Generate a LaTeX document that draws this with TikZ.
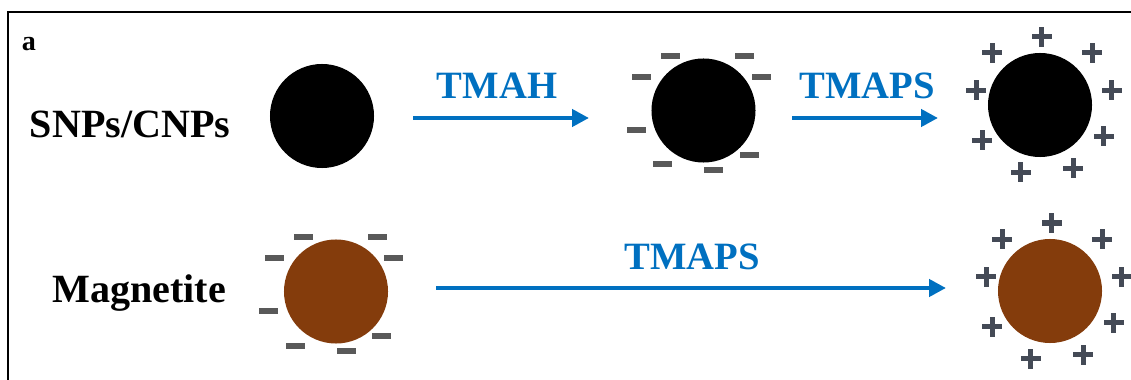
\documentclass[tikz,border=0pt]{standalone}
\usepackage{fontspec}
\setmainfont{Liberation Serif}
\usetikzlibrary{arrows.meta}
\definecolor{tmblue}{RGB}{0,112,192}
\definecolor{rust}{RGB}{132,60,12}
\definecolor{chgray}{RGB}{89,89,89}
\definecolor{plusgray}{RGB}{68,74,86}

% charge rings, drawn round the origin of the current scope
\newcommand{\minusring}{%
  \foreach \dx/\dy in {-33/-54.5, 41/-54.5, -62/-33.5, 57.5/-33.5, -67.5/19.5, 45.5/44.5, -41/54, 10/59.5}
    \fill[chgray] (\dx-9.5,\dy-3) rectangle ++(19,6);}
\newcommand{\plusring}{%
  \foreach \dx/\dy in {1.7/-68, -48/-52, 52.3/-52, -64/-14.5, 71.7/-14.5, -58/35.5, 63.5/31.5, -19.3/67.5, 33.3/63.5} {
    \fill[plusgray] (\dx-10,\dy-2.5) rectangle ++(20,5);
    \fill[plusgray] (\dx-2.5,\dy-10) rectangle ++(5,20);}}

\begin{document}
\begin{tikzpicture}[x=0.025cm, y=-0.025cm,
  particle/.style={circle, inner sep=0pt, minimum size=2.6cm},
  flow/.style={draw=tmblue, line width=3.4pt, -{Triangle[length=12pt, width=12pt]}},
  reagent/.style={text=tmblue, font=\fontsize{27.5}{32}\selectfont\bfseries, anchor=base},
  sample/.style={font=\fontsize{28.5}{33}\selectfont\bfseries, anchor=base}]
\useasboundingbox (0,0) rectangle (1131,380);

% frame
\draw[line width=1.4pt] (8,380) -- (8,12) -- (1131,12);
\node[font=\fontsize{20}{24}\selectfont\bfseries, anchor=base] (panel) at (29,51) {a};

% silica / carbon particles
\node[sample] (snplab) at (130,138) {SNPs/CNPs};
\node[particle, fill=black] (snp) at (322,116) {};
\node[particle, fill=black] (snpneg) at (703.5,110.5) {};
\node[particle, fill=black] (snppos) at (1040,105) {};
\begin{scope}[shift={(snpneg.center)}] \minusring \end{scope}
\begin{scope}[shift={(snppos.center)}] \plusring \end{scope}

% magnetite particles
\node[sample] (maglab) at (139,302) {Magnetite};
\node[particle, fill=rust] (mag) at (336,291.5) {};
\node[particle, fill=rust] (magpos) at (1050,291) {};
\begin{scope}[shift={(mag.center)}] \minusring \end{scope}
\begin{scope}[shift={(magpos.center)}] \plusring \end{scope}

% reaction arrows
\coordinate (t1s) at (413,118);
\coordinate (t1e) at (589,118);
\coordinate (t2s) at (792,118);
\coordinate (t2e) at (938,118);
\coordinate (t3s) at (436,288);
\coordinate (t3e) at (946,288);
\draw[flow] (t1s) -- (t1e);
\draw[flow] (t2s) -- (t2e);
\draw[flow] (t3s) -- (t3e);
\node[reagent] (tmah) at (497,99) {TMAH};
\node[reagent] (tmaps) at (867,99) {TMAPS};
\node[reagent] (tmapsm) at (692,269) {TMAPS};
\end{tikzpicture}
\end{document}
